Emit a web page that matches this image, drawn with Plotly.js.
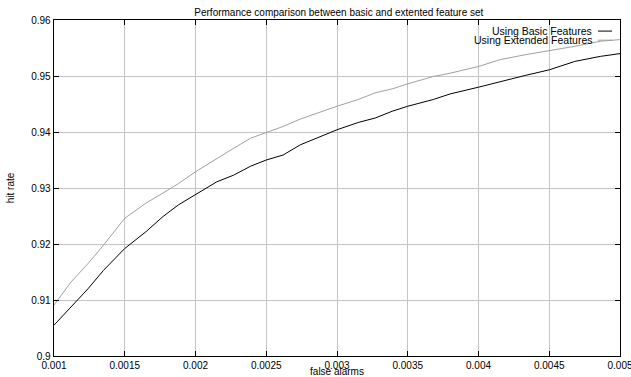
<!DOCTYPE html>
<html>
<head>
<meta charset="utf-8">
<script src="https://cdn.plot.ly/plotly-3.0.1.min.js"></script>
<style>html,body{margin:0;padding:0;background:#fff;}#chart{width:631px;height:377px;}</style>
</head>
<body>
<div id="chart"></div>
<script>
const falseAlarms = [0.001, 0.00112, 0.00124, 0.00135, 0.0015, 0.00165, 0.00177, 0.00188, 0.002, 0.00215,
  0.00227, 0.00239, 0.0025, 0.00262, 0.00274, 0.00286, 0.003, 0.00315, 0.00327, 0.00339,
  0.0035, 0.00368, 0.0038, 0.004, 0.00415, 0.00433, 0.0045, 0.00468, 0.00486, 0.005];
const basicHitRate = [0.9055, 0.9087, 0.9120, 0.9153, 0.9192, 0.9222, 0.9249, 0.9270, 0.9288, 0.9311,
  0.9323, 0.9339, 0.9350, 0.9359, 0.9377, 0.9389, 0.9404, 0.9417, 0.9425, 0.9437,
  0.9446, 0.9458, 0.9468, 0.9480, 0.9490, 0.9501, 0.9511, 0.9526, 0.9535, 0.9540];
const extendedHitRate = [0.9091, 0.9132, 0.9165, 0.9198, 0.9246, 0.9273, 0.9291, 0.9308, 0.9329, 0.9353,
  0.9371, 0.9389, 0.9399, 0.9410, 0.9423, 0.9434, 0.9446, 0.9458, 0.9470, 0.9477,
  0.9486, 0.9499, 0.9505, 0.9517, 0.9529, 0.9538, 0.9545, 0.9553, 0.9562, 0.9565];
const seriesNames = ["Using Basic Features", "Using Extended Features"];
const xTickVals = [0.001, 0.0015, 0.002, 0.0025, 0.003, 0.0035, 0.004, 0.0045, 0.005];
const xTickText = ["0.001", "0.0015", "0.002", "0.0025", "0.003", "0.0035", "0.004", "0.0045", "0.005"];
const yTickVals = [0.9, 0.91, 0.92, 0.93, 0.94, 0.95, 0.96];
const yTickText = ["0.9", "0.91", "0.92", "0.93", "0.94", "0.95", "0.96"];

const FONT = "Liberation Sans, Arial, Helvetica, sans-serif";
const colors = ["#000000", "#a0a0a0"];

const traces = [
  {x: falseAlarms, y: basicHitRate, name: seriesNames[0], mode: "lines",
   line: {color: colors[0], width: 1}, showlegend: false},
  {x: falseAlarms, y: extendedHitRate, name: seriesNames[1], mode: "lines",
   line: {color: colors[1], width: 1}, showlegend: false}
];

const legendY = [0.967, 0.94];
const annotations = seriesNames.map((n, i) => ({
  text: n, xref: "paper", yref: "paper", x: 0.954, y: legendY[i],
  xanchor: "right", yanchor: "middle", showarrow: false,
  font: {family: FONT, size: 10.5, color: "#000"}
}));
const shapes = seriesNames.map((n, i) => ({
  type: "line", xref: "paper", yref: "paper", x0: 0.961, x1: 0.986, y0: legendY[i], y1: legendY[i],
  line: {color: colors[i], width: 1}
}));

const layout = {
  width: 631, height: 377,
  margin: {l: 54, r: 11, t: 20, b: 21, pad: 0},
  paper_bgcolor: "#fff", plot_bgcolor: "#fff",
  font: {family: FONT, size: 10, color: "#000"},
  title: {text: "Performance comparison between basic and extented feature set",
          font: {family: FONT, size: 10, color: "#000"}, x: 0.537, xanchor: "center", y: 0.968, yanchor: "middle"},
  xaxis: {
    range: [0.001, 0.005], tickvals: xTickVals, ticktext: xTickText,
    ticklabeloverflow: "allow",
    showgrid: true, gridcolor: "#c4c4c4", gridwidth: 1,
    showline: true, linecolor: "#000", linewidth: 1.3, mirror: "ticks",
    ticks: "inside", ticklen: 5, tickcolor: "#000", zeroline: false,
    tickfont: {family: FONT, size: 10, color: "#000"},
    title: {text: "false alarms", font: {family: FONT, size: 10, color: "#000"}, standoff: 0},
    automargin: false
  },
  yaxis: {
    range: [0.9, 0.96], tickvals: yTickVals, ticktext: yTickText,
    showgrid: true, gridcolor: "#c4c4c4", gridwidth: 1,
    showline: true, linecolor: "#000", linewidth: 1.3, mirror: "ticks",
    ticks: "inside", ticklen: 5, tickcolor: "#000", zeroline: false,
    tickfont: {family: FONT, size: 10, color: "#000"},
    title: {text: "hit rate", font: {family: FONT, size: 10, color: "#000"}, standoff: 14},
    automargin: false
  },
  annotations: annotations,
  shapes: shapes
};

Plotly.newPlot("chart", traces, layout, {displayModeBar: false, staticPlot: true});
</script>
</body>
</html>
